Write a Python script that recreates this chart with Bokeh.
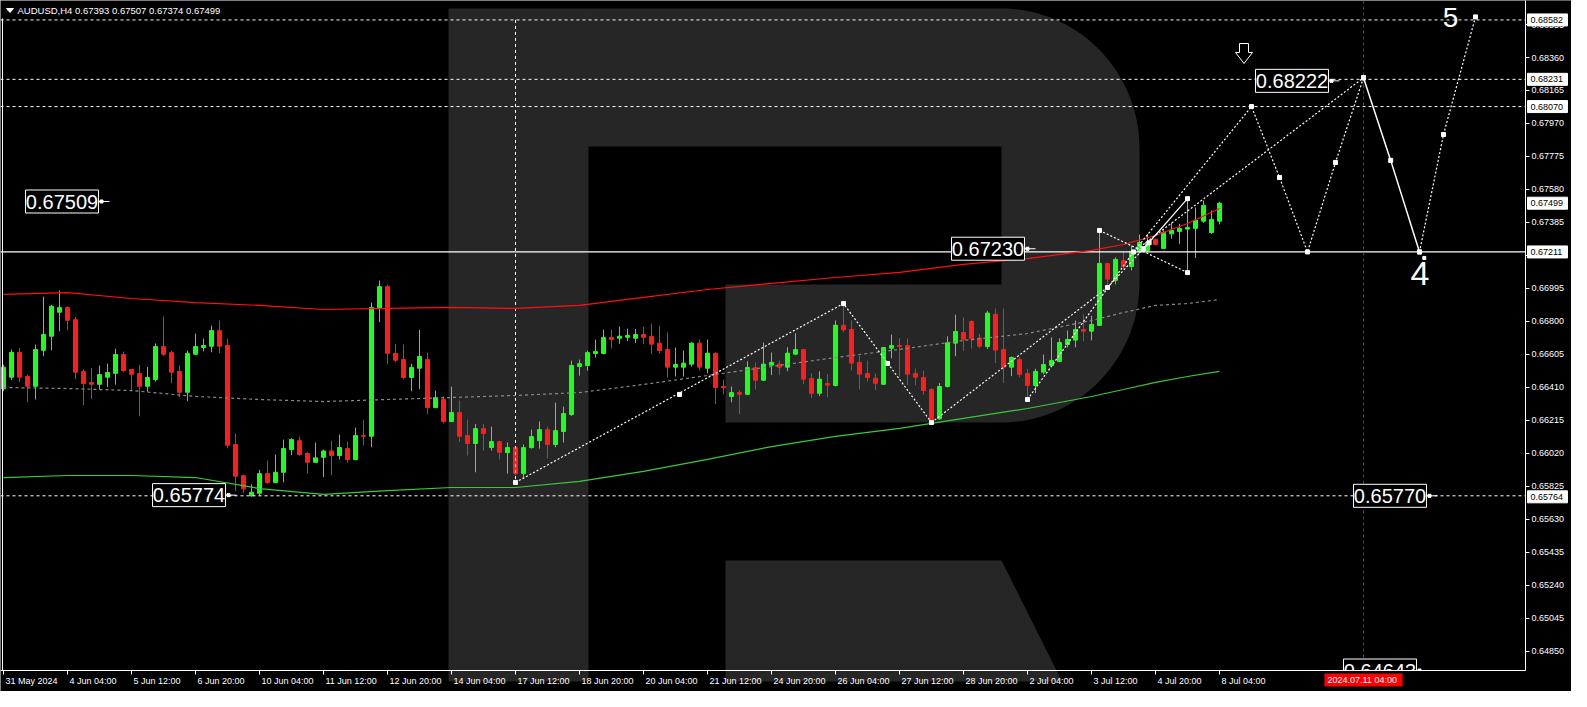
import numpy as np
from bokeh.plotting import figure
from bokeh.models import Range1d
from bokeh.core.properties import value
from bokeh.embed import file_html
from bokeh.resources import INLINE

# ---------------- data ----------------
title_text = "AUDUSD,H4  0.67393 0.67507 0.67374 0.67499"

opens = [
0.66402, 0.66471, 0.66618, 0.66475, 0.66417, 0.66630, 0.66713, 0.66855, 0.66882, 0.66811,
0.66504, 0.66439, 0.66429, 0.66471, 0.66494, 0.66605, 0.66516, 0.66492, 0.66417, 0.66457,
0.66652, 0.66616, 0.66504, 0.66382, 0.66607, 0.66646, 0.66654, 0.66746, 0.66658, 0.66073,
0.65889, 0.65770, 0.65785, 0.65901, 0.65848, 0.65909, 0.66043, 0.66096, 0.66020, 0.65968,
0.65998, 0.66035, 0.66008, 0.66049, 0.65984, 0.66126, 0.66122, 0.66876, 0.67006, 0.66611,
0.66575, 0.66469, 0.66524, 0.66575, 0.66291, 0.66339, 0.66209, 0.66262, 0.66126, 0.66079,
0.66167, 0.66055, 0.66090, 0.66025, 0.66055, 0.65901, 0.66055, 0.66096, 0.66161, 0.66073,
0.66150, 0.66250, 0.66534, 0.66540, 0.66611, 0.66611, 0.66705, 0.66701, 0.66707, 0.66701,
0.66723, 0.66711, 0.66672, 0.66634, 0.66530, 0.66530, 0.66548, 0.66672, 0.66524, 0.66611,
0.66416, 0.66357, 0.66380, 0.66370, 0.66528, 0.66453, 0.66542, 0.66548, 0.66530, 0.66607,
0.66634, 0.66463, 0.66376, 0.66433, 0.66422, 0.66778, 0.66753, 0.66558, 0.66493, 0.66465,
0.66429, 0.66642, 0.66658, 0.66658, 0.66493, 0.66469, 0.66398, 0.66225, 0.66416, 0.66672,
0.66735, 0.66800, 0.66702, 0.66652, 0.66842, 0.66635, 0.66530, 0.66576, 0.66493, 0.66422,
0.66501, 0.66540, 0.66564, 0.66664, 0.66690, 0.66753, 0.66743, 0.66777, 0.67143, 0.67043,
0.67161, 0.67125, 0.67214, 0.67220, 0.67285, 0.67232, 0.67318, 0.67332, 0.67346, 0.67350,
0.67393, 0.67326, 0.67393]

highs = [
0.66545, 0.66634, 0.66644, 0.66486, 0.66664, 0.66947, 0.66898, 0.66983, 0.66890, 0.66827,
0.66518, 0.66526, 0.66540, 0.66551, 0.66640, 0.66622, 0.66518, 0.66545, 0.66532, 0.66670,
0.66829, 0.66628, 0.66540, 0.66628, 0.66729, 0.66699, 0.66776, 0.66806, 0.66699, 0.66138,
0.65895, 0.65838, 0.65923, 0.65978, 0.66014, 0.66102, 0.66110, 0.66120, 0.66029, 0.66085,
0.66043, 0.66096, 0.66132, 0.66090, 0.66173, 0.66220, 0.66912, 0.67042, 0.67018, 0.66668,
0.66664, 0.66551, 0.66750, 0.66616, 0.66392, 0.66358, 0.66415, 0.66333, 0.66220, 0.66195,
0.66195, 0.66179, 0.66092, 0.66085, 0.66063, 0.66073, 0.66161, 0.66209, 0.66179, 0.66321,
0.66297, 0.66569, 0.66575, 0.66628, 0.66693, 0.66752, 0.66752, 0.66770, 0.66758, 0.66756,
0.66770, 0.66788, 0.66774, 0.66735, 0.66646, 0.66628, 0.66678, 0.66693, 0.66693, 0.66619,
0.66457, 0.66416, 0.66392, 0.66565, 0.66557, 0.66676, 0.66617, 0.66569, 0.66648, 0.66731,
0.66636, 0.66494, 0.66506, 0.66487, 0.66806, 0.66894, 0.66806, 0.66599, 0.66569, 0.66492,
0.66648, 0.66723, 0.66701, 0.66699, 0.66522, 0.66509, 0.66406, 0.66436, 0.66712, 0.66840,
0.66824, 0.66806, 0.66727, 0.66863, 0.66877, 0.66877, 0.66593, 0.66589, 0.66519, 0.66521,
0.66605, 0.66706, 0.66700, 0.66747, 0.66806, 0.66842, 0.66834, 0.67338, 0.67147, 0.67179,
0.67214, 0.67249, 0.67314, 0.67318, 0.67289, 0.67338, 0.67383, 0.67377, 0.67525, 0.67474,
0.67515, 0.67456, 0.67507]

lows = [
0.66388, 0.66455, 0.66441, 0.66323, 0.66339, 0.66595, 0.66630, 0.66742, 0.66748, 0.66459,
0.66305, 0.66341, 0.66398, 0.66412, 0.66427, 0.66500, 0.66388, 0.66240, 0.66386, 0.66445,
0.66595, 0.66435, 0.66352, 0.66329, 0.66601, 0.66624, 0.66618, 0.66612, 0.66051, 0.65797,
0.65785, 0.65765, 0.65770, 0.65840, 0.65845, 0.65850, 0.66010, 0.66006, 0.65901, 0.65964,
0.65880, 0.65891, 0.65984, 0.65966, 0.65980, 0.66067, 0.66057, 0.66796, 0.66547, 0.66559,
0.66457, 0.66388, 0.66400, 0.66252, 0.66288, 0.66197, 0.66205, 0.66090, 0.66008, 0.65909,
0.66037, 0.66037, 0.65984, 0.65901, 0.65893, 0.65880, 0.66049, 0.66049, 0.65990, 0.66057,
0.66085, 0.66242, 0.66480, 0.66510, 0.66587, 0.66605, 0.66640, 0.66668, 0.66684, 0.66672,
0.66666, 0.66609, 0.66611, 0.66469, 0.66475, 0.66475, 0.66534, 0.66510, 0.66494, 0.66311,
0.66370, 0.66323, 0.66252, 0.66365, 0.66398, 0.66448, 0.66483, 0.66483, 0.66506, 0.66601,
0.66429, 0.66347, 0.66359, 0.66353, 0.66416, 0.66737, 0.66510, 0.66398, 0.66445, 0.66394,
0.66425, 0.66583, 0.66475, 0.66424, 0.66424, 0.66367, 0.66209, 0.66219, 0.66410, 0.66595,
0.66625, 0.66641, 0.66641, 0.66637, 0.66554, 0.66436, 0.66477, 0.66471, 0.66351, 0.66377,
0.66489, 0.66530, 0.66560, 0.66647, 0.66647, 0.66684, 0.66688, 0.66773, 0.66993, 0.67019,
0.67112, 0.67102, 0.67202, 0.67210, 0.67249, 0.67230, 0.67289, 0.67259, 0.67082, 0.67175,
0.67383, 0.67318, 0.67374]

closes = [
0.66530, 0.66618, 0.66471, 0.66417, 0.66634, 0.66723, 0.66890, 0.66882, 0.66807, 0.66500,
0.66433, 0.66429, 0.66486, 0.66498, 0.66605, 0.66510, 0.66488, 0.66417, 0.66469, 0.66652,
0.66607, 0.66500, 0.66382, 0.66611, 0.66652, 0.66658, 0.66746, 0.66654, 0.66069, 0.65886,
0.65811, 0.65791, 0.65901, 0.65848, 0.65909, 0.66049, 0.66102, 0.66014, 0.65968, 0.65994,
0.66035, 0.66008, 0.66055, 0.65984, 0.66126, 0.66122, 0.66882, 0.67006, 0.66612, 0.66571,
0.66469, 0.66528, 0.66593, 0.66291, 0.66350, 0.66209, 0.66262, 0.66122, 0.66079, 0.66167,
0.66138, 0.66090, 0.66027, 0.66055, 0.65901, 0.66055, 0.66120, 0.66161, 0.66073, 0.66155,
0.66256, 0.66540, 0.66551, 0.66616, 0.66622, 0.66705, 0.66693, 0.66713, 0.66717, 0.66723,
0.66707, 0.66666, 0.66628, 0.66530, 0.66546, 0.66554, 0.66672, 0.66530, 0.66613, 0.66410,
0.66408, 0.66380, 0.66370, 0.66528, 0.66453, 0.66548, 0.66559, 0.66530, 0.66613, 0.66634,
0.66459, 0.66376, 0.66459, 0.66424, 0.66778, 0.66751, 0.66554, 0.66489, 0.66469, 0.66435,
0.66646, 0.66658, 0.66652, 0.66489, 0.66471, 0.66392, 0.66219, 0.66416, 0.66674, 0.66741,
0.66694, 0.66698, 0.66654, 0.66850, 0.66631, 0.66530, 0.66587, 0.66487, 0.66422, 0.66505,
0.66546, 0.66570, 0.66676, 0.66694, 0.66753, 0.66743, 0.66783, 0.67143, 0.67050, 0.67167,
0.67125, 0.67214, 0.67267, 0.67269, 0.67255, 0.67326, 0.67338, 0.67350, 0.67356, 0.67399,
0.67486, 0.67403, 0.67499]

# time axis labels (bar index -> label)
tick_bars = [0, 8, 16, 24, 32, 40, 48, 56, 64, 72, 80, 88, 96, 104, 112, 120, 128, 136, 144, 152]
tick_labels = ["31 May 2024", "4 Jun 04:00", "5 Jun 12:00", "6 Jun 20:00", "10 Jun 04:00",
               "11 Jun 12:00", "12 Jun 20:00", "14 Jun 04:00", "17 Jun 12:00", "18 Jun 20:00",
               "20 Jun 04:00", "21 Jun 12:00", "24 Jun 20:00", "26 Jun 04:00", "27 Jun 12:00",
               "28 Jun 20:00", "2 Jul 04:00", "3 Jul 12:00", "4 Jul 20:00", "8 Jul 04:00"]
price_ticks = [0.68555, 0.68360, 0.68165, 0.67970, 0.67775, 0.67580, 0.67385, 0.67190,
               0.66995, 0.66800, 0.66605, 0.66410, 0.66215, 0.66020, 0.65825, 0.65630,
               0.65435, 0.65240, 0.65045, 0.64850, 0.64655]

# moving averages (read every 8 bars)
ma_bars = [0, 8, 16, 24, 32, 40, 48, 56, 64, 72, 80, 88, 96, 104, 112, 120, 128, 136, 140, 144, 148, 152]
ma_red = [0.66960, 0.66971, 0.66936, 0.66912, 0.66895, 0.66871, 0.66877, 0.66883, 0.66877, 0.66895,
          0.66942, 0.66989, 0.67025, 0.67060, 0.67090, 0.67137, 0.67172, 0.67220, 0.67255, 0.67308,
          0.67379, 0.67468]
ma_gray = [0.66410, 0.66404, 0.66392, 0.66357, 0.66339, 0.66327, 0.66339, 0.66351, 0.66363, 0.66380,
           0.66428, 0.66481, 0.66534, 0.66587, 0.66635, 0.66688, 0.66729, 0.66806, 0.66853, 0.66895,
           0.66906, 0.66930]
ma_green = [0.65878, 0.65890, 0.65890, 0.65878, 0.65813, 0.65778, 0.65801, 0.65819, 0.65819, 0.65855,
            0.65914, 0.65985, 0.66061, 0.66121, 0.66168, 0.66227, 0.66286, 0.66357, 0.66398, 0.66440,
            0.66475, 0.66505]

# horizontal levels
dashed_levels = [0.68582, 0.68231, 0.68070, 0.65770]
support_level = 0.67211
vline_bar, vline_top, vline_bottom = 64, 0.68582, 0.65849
forecast_bar = 170

# wave markup
zig_bars = [64, 105, 116]
zig_prices = [0.65849, 0.66906, 0.66203]
zig_mid_bars = [84.5, 110.5]
zig_mid_prices = [0.66369, 0.66552]
rise_a_bars, rise_a_prices = [116, 138], [0.66203, 0.67001]
rise_b_bars, rise_b_prices = [128, 141.25], [0.66339, 0.67211]
tri_a_bars, tri_a_prices = [137, 148], [0.67338, 0.67089]
tri_b_dot_bars, tri_b_dot_prices = [138, 142.5], [0.67001, 0.67230]
tri_b_bars, tri_b_prices = [142.5, 148], [0.67230, 0.67526]
small_mark_bars = [137, 138, 148, 148, 128, 142.5, 143.2]
small_mark_prices = [0.67338, 0.67001, 0.67526, 0.67089, 0.66339, 0.67230, 0.67265]

# forecast
fc_path_bars = [141.25, 156, 159.5, 163, 166.5, 170]
fc_path_prices = [0.67211, 0.68070, 0.67651, 0.67211, 0.67740, 0.68240]
fc_long_bars, fc_long_prices = [141.25, 170], [0.67211, 0.68240]
fc_solid_bars = [170, 173.4, 177]
fc_solid_prices = [0.68240, 0.67752, 0.67211]
fc_final_bars = [177, 180, 184]
fc_final_prices = [0.67211, 0.67905, 0.68600]

callout_texts = ["0.67509", "0.65774", "0.67230", "0.68222", "0.65770", "0.64643"]
callout_prices = [0.67509, 0.65774, 0.67230, 0.68222, 0.65770, 0.64643]
axis_box_texts = ["0.68582", "0.68231", "0.68070", "0.67499", "0.67211", "0.65764"]
axis_box_prices = [0.68582, 0.68231, 0.68070, 0.67499, 0.67211, 0.65764]
date_box_text = "2024.07.11 04:00"

# ---------------- layout helpers (screen pixels -> data) ----------------
FW, FH = 1571, 691      # figure size
AX, AY = 1525, 670      # right price axis x / bottom time axis y (pixels)


def bx(px):
    return (px - 3.0) / 8.0


def py(pix):
    return 0.6836 - (pix - 57.0) / 16923.0


PPX = 1.0 / 16923.0
FONT = value("Liberation Sans")
WHITE = "#ffffff"
GREEN = "#1cff1c"
RED = "#ff1c1c"
WM = "#262626"

p = figure(width=FW, height=FH, x_range=Range1d(bx(0), bx(FW)),
           y_range=Range1d(py(FH), py(0)), output_backend="svg",
           toolbar_location=None, x_axis_location=None, y_axis_location=None,
           min_border=0, background_fill_color="#000000", border_fill_color="#000000",
           outline_line_color=None)
p.grid.visible = False

# ---- watermark "R" ----
t1 = np.linspace(np.pi / 2, 0, 40)
t2 = np.linspace(0, -np.pi / 2, 40)
pts = [(586, 8), (1001, 8)]
pts += [(1001 + 138 * np.cos(t), 148 - 140 * np.sin(t)) for t in t1]
pts += [(1001 + 138 * np.cos(t), 282 - 140 * np.sin(t)) for t in t2]
pts += [(1001, 422), (725, 422), (725, 284), (1001, 284), (1001, 146), (586, 146)]
p.patch([bx(a) for a, b in pts], [py(b) for a, b in pts], fill_color=WM, line_color=None)
WB = AY + 11
p.quad(left=bx(448), right=bx(588), top=py(8), bottom=py(WB), fill_color=WM, line_color=None)
leg = [(725, 560), (1001, 560), (1001 + (WB - 560) * 0.5, WB), (725, WB)]
p.patch([bx(a) for a, b in leg], [py(b) for a, b in leg], fill_color=WM, line_color=None)

# ---- candles ----
idx = list(range(len(opens)))
cols = [GREEN if c >= o else RED for o, c in zip(opens, closes)]
p.segment(x0=idx, y0=lows, x1=idx, y1=highs, line_color=cols, line_width=1)
p.vbar(x=idx, width=0.5, top=[max(o, c) for o, c in zip(opens, closes)],
       bottom=[min(o, c) for o, c in zip(opens, closes)], fill_color=cols, line_color=cols, line_width=1)

# ---- levels ----
n = len(dashed_levels)
p.segment(x0=[bx(0)] * n, y0=dashed_levels, x1=[bx(AX)] * n, y1=dashed_levels,
          line_color=WHITE, line_dash="3 3", line_width=1)
p.segment(x0=[bx(0)], y0=[support_level], x1=[bx(AX)], y1=[support_level], line_color=WHITE, line_width=1.2)
p.segment(x0=[vline_bar], y0=[vline_top], x1=[vline_bar], y1=[vline_bottom],
          line_color=WHITE, line_dash="3 3", line_width=1)
p.segment(x0=[forecast_bar], y0=[py(0)], x1=[forecast_bar], y1=[py(AY)],
          line_color="#d01010", line_dash="3 3", line_width=1)

# ---- moving averages ----
p.line(ma_bars, ma_red, line_color="#ff1010", line_width=1.2)
p.line(ma_bars, ma_gray, line_color="#8a8a8a", line_dash="3 3", line_width=1.2)
p.line(ma_bars, ma_green, line_color="#3cc83c", line_width=1.2)

# ---- waves ----
dot = dict(line_color=WHITE, line_dash="2 2", line_width=1.2)
p.line(zig_bars, zig_prices, **dot)
p.line(rise_a_bars, rise_a_prices, **dot)
p.line(rise_b_bars, rise_b_prices, **dot)
p.line(tri_a_bars, tri_a_prices, **dot)
p.line(tri_b_dot_bars, tri_b_dot_prices, **dot)
p.line(tri_b_bars, tri_b_prices, line_color=WHITE, line_width=1.2)
p.line(fc_path_bars, fc_path_prices, **dot)
p.line(fc_long_bars, fc_long_prices, **dot)
p.line(fc_solid_bars, fc_solid_prices, line_color=WHITE, line_width=1.5)
p.line(fc_final_bars, fc_final_prices, **dot)
mk_x = zig_bars + zig_mid_bars + small_mark_bars + fc_path_bars + fc_solid_bars + fc_final_bars
mk_y = zig_prices + zig_mid_prices + small_mark_prices + fc_path_prices + fc_solid_prices + fc_final_prices
p.scatter(mk_x, mk_y, marker="square", size=4, fill_color=WHITE, line_color=WHITE)
p.scatter([fc_solid_bars[-1] + 0.6], [fc_solid_prices[-1] - 6 * PPX], marker="square", size=3,
          fill_color=WHITE, line_color=WHITE)

# ---- call-out boxes ----
callout_left = [25, 152, 951, 1255, 1353, 1343]
for txt, pr, xl in zip(callout_texts, callout_prices, callout_left):
    yc = max(pr, py(AY))
    p.quad(left=bx(xl), right=bx(xl + 73), top=yc + 11.5 * PPX, bottom=yc - 11.5 * PPX,
           fill_color="#000000", line_color=WHITE, line_width=1)
    p.text(x=[bx(xl + 36.5)], y=[yc], text=[txt], text_font=FONT, text_font_size="20px",
           text_color=WHITE, text_align="center", text_baseline="middle")
    p.segment(x0=[bx(xl + 73)], y0=[yc], x1=[bx(xl + 84)], y1=[yc], line_color=WHITE, line_width=1)
    p.scatter([bx(xl + 76)], [yc], marker="square", size=3, fill_color=WHITE, line_color=WHITE)

# wave numbers and arrow
p.text(x=[bx(1419.5)], y=[py(272.5)], text=["4"], text_font=FONT, text_font_size="34px",
       text_color=WHITE, text_align="center", text_baseline="middle")
p.text(x=[bx(1450)], y=[py(16.5)], text=["5"], text_font=FONT, text_font_size="28px",
       text_color=WHITE, text_align="center", text_baseline="middle")
arrow = [(1239, 43), (1248, 43), (1248, 52), (1252, 52), (1243.5, 63), (1235, 52), (1239, 52)]
p.patch([bx(a) for a, b in arrow], [py(b) for a, b in arrow], fill_color="#000000",
        line_color=WHITE, line_width=1)

# ---- axes ----
p.quad(left=bx(1070), right=bx(AX), top=py(AY + 0.5), bottom=py(FH), fill_color="#000000", line_color=None)
p.quad(left=bx(AX + 0.5), right=bx(FW), top=py(0), bottom=py(FH), fill_color="#000000", line_color=None)
p.segment(x0=[bx(0)], y0=[py(AY)], x1=[bx(AX)], y1=[py(AY)], line_color=WHITE, line_width=1)
p.segment(x0=[bx(AX)], y0=[py(0)], x1=[bx(AX)], y1=[py(AY)], line_color=WHITE, line_width=1)
p.segment(x0=[bx(2)], y0=[py(18)], x1=[bx(2)], y1=[py(AY)], line_color=WHITE, line_width=1)

p.segment(x0=tick_bars, y0=[py(AY)] * len(tick_bars), x1=tick_bars, y1=[py(AY + 4)] * len(tick_bars),
          line_color=WHITE, line_width=1)
p.text(x=[b + 0.25 for b in tick_bars], y=[py(AY + 10)] * len(tick_bars), text=tick_labels,
       text_font=FONT, text_font_size="9px", text_color=WHITE, text_align="left", text_baseline="middle")

vis_ticks = [v for v in price_ticks if v >= py(AY - 4)]
nt = len(vis_ticks)
p.segment(x0=[bx(AX)] * nt, y0=vis_ticks, x1=[bx(AX + 4)] * nt, y1=vis_ticks,
          line_color=WHITE, line_width=1)
p.text(x=[bx(AX + 6)] * nt, y=vis_ticks, text=[f"{v:.5f}" for v in vis_ticks],
       text_font=FONT, text_font_size="9px", text_color=WHITE, text_align="left", text_baseline="middle")

nb = len(axis_box_prices)
p.quad(left=[bx(AX + 2)] * nb, right=[bx(AX + 42)] * nb,
       top=[v + 6 * PPX for v in axis_box_prices], bottom=[v - 6 * PPX for v in axis_box_prices],
       fill_color=WHITE, line_color=WHITE)
p.text(x=[bx(AX + 5)] * nb, y=axis_box_prices, text=axis_box_texts,
       text_font=FONT, text_font_size="9px", text_color="#000000", text_align="left", text_baseline="middle")

p.quad(left=[bx(1324)], right=[bx(1402)], top=[py(AY + 3)], bottom=[py(AY + 16)], fill_color="#ff0000", line_color=None)
p.text(x=[bx(1327)], y=[py(AY + 9.5)], text=[date_box_text], text_font=FONT, text_font_size="9px",
       text_color=WHITE, text_align="left", text_baseline="middle")

# title
tri = [(6, 8), (13, 8), (9.5, 12)]
p.patch([bx(a) for a, b in tri], [py(b) for a, b in tri], fill_color=WHITE, line_color=WHITE)
p.text(x=[bx(17)], y=[py(10)], text=[title_text], text_font=FONT, text_font_size="9.5px",
       text_color=WHITE, text_align="left", text_baseline="middle")

open("out.html", "w").write(file_html(p, INLINE))
